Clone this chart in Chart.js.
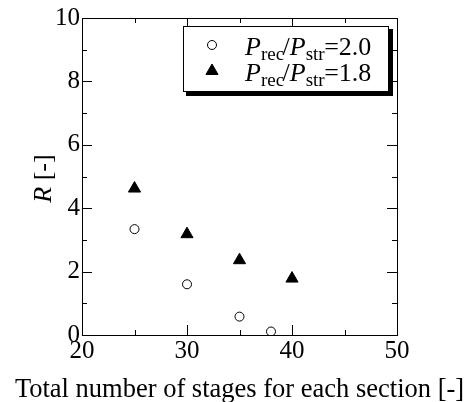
<!DOCTYPE html>
<html>
<head>
<meta charset="utf-8">
<script src="https://cdn.jsdelivr.net/npm/chart.js@4/dist/chart.umd.min.js"></script>
<style>
  html, body { margin: 0; padding: 0; background: #fff; }
  #wrap { width: 469px; height: 402px; }
</style>
</head>
<body>
<div id="wrap"><canvas id="c" width="469" height="402"></canvas></div>
<script>
// ---- data ----
const stagesA = [25, 30, 35, 38];          // Prec/Pstr = 2.0
const valuesA = [3.34, 1.60, 0.58, 0.11];
const stagesB = [25, 30, 35, 40];          // Prec/Pstr = 1.8
const valuesB = [4.62, 3.18, 2.36, 1.78];
const xTicks = [20, 30, 40, 50];
const yTicks = [0, 2, 4, 6, 8, 10];
const legendRatios = ['2.0', '1.8'];
const xTitle = 'Total number of stages for each section [-]';

const SERIF = '"Liberation Serif", "DejaVu Serif", serif';

function drawRich(ctx, parts, x, y) {
  let cx = x;
  ctx.textAlign = 'left';
  for (const p of parts) {
    ctx.font = p.font;
    ctx.fillText(p.text, cx, y + (p.dy || 0));
    cx += ctx.measureText(p.text).width + (p.kern || 0);
  }
  return cx;
}

const framePlugin = {
  id: 'frame',
  afterDatasetsDraw(chart) {
    const ctx = chart.ctx;
    const a = chart.chartArea;
    const xs = chart.scales.x, ys = chart.scales.y;
    ctx.save();
    ctx.strokeStyle = '#000';
    ctx.lineWidth = 1;
    ctx.strokeRect(Math.round(a.left) + 0.5, Math.round(a.top) + 0.5,
                   Math.round(a.right - a.left), Math.round(a.bottom - a.top));
    ctx.beginPath();
    for (let v = xs.min; v <= xs.max + 1e-9; v += 5) {
      const px = Math.round(xs.getPixelForValue(v)) + 0.5;
      const len = (v % 10 === 0) ? 10 : 5;
      ctx.moveTo(px, a.bottom); ctx.lineTo(px, a.bottom - len);
      ctx.moveTo(px, a.top); ctx.lineTo(px, a.top + len);
    }
    for (let v = ys.min; v <= ys.max + 1e-9; v += 1) {
      const py = Math.round(ys.getPixelForValue(v)) + 0.5;
      const len = (v % 2 === 0) ? 10 : 5;
      ctx.moveTo(a.left, py); ctx.lineTo(a.left + len, py);
      ctx.moveTo(a.right, py); ctx.lineTo(a.right - len, py);
    }
    ctx.stroke();
    ctx.restore();
  },
  afterDraw(chart) {
    const ctx = chart.ctx;
    const a = chart.chartArea;
    ctx.save();
    ctx.fillStyle = '#000';
    ctx.textBaseline = 'alphabetic';
    // x title
    ctx.font = '26.5px ' + SERIF;
    ctx.textAlign = 'center';
    ctx.fillText(xTitle, (a.left + a.right) / 2, 397);
    // y title (rotated)
    ctx.save();
    ctx.translate(51, (a.top + a.bottom) / 2 + 2);
    ctx.rotate(-Math.PI / 2);
    const f1 = 'italic 26px ' + SERIF, f2 = '26px ' + SERIF;
    ctx.font = f1; const w1 = ctx.measureText('R').width;
    ctx.font = f2; const w2 = ctx.measureText(' [-]').width;
    drawRich(ctx, [{text: 'R', font: f1}, {text: ' [-]', font: f2}], -(w1 + w2) / 2, 0);
    ctx.restore();

    // legend box
    const bx = a.left + 101, by = a.top + 8, bw = 205, bh = 65;
    ctx.fillStyle = '#000';
    ctx.fillRect(bx + 3, by + 3, bw + 2, bh + 2);
    ctx.fillStyle = '#fff';
    ctx.fillRect(bx, by, bw, bh);
    ctx.strokeStyle = '#000';
    ctx.lineWidth = 1;
    ctx.strokeRect(bx + 0.5, by + 0.5, bw, bh);

    const ds = chart.data.datasets;
    const rows = [by + 19, by + 45];
    for (let i = 0; i < 2; i++) {
      const d = ds[i];
      ctx.fillStyle = d.backgroundColor; ctx.strokeStyle = d.borderColor;
      ctx.lineWidth = d.borderWidth;
      Chart.helpers.drawPoint(ctx, {
        pointStyle: d.pointStyle, radius: d.pointRadius, rotation: 0,
        borderWidth: d.borderWidth
      }, bx + 29, rows[i]);
      ctx.fillStyle = '#000';
      const big = '26px ' + SERIF, bigI = 'italic 26px ' + SERIF, sub = '19px ' + SERIF;
      drawRich(ctx, [
        {text: 'P', font: bigI, kern: 0},
        {text: 'rec', font: sub, dy: 5, kern: -1.5},
        {text: '/', font: big},
        {text: 'P', font: bigI},
        {text: 'str', font: sub, dy: 5, kern: -0.5},
        {text: '=' + legendRatios[i], font: big}
      ], bx + 62, rows[i] + 10);
    }
    ctx.restore();
  }
};

new Chart(document.getElementById('c'), {
  type: 'scatter',
  data: {
    datasets: [
      {
        label: 'Prec/Pstr=' + legendRatios[0],
        data: stagesA.map((x, i) => ({x, y: valuesA[i]})),
        pointStyle: 'circle', pointRadius: 4.5, pointHoverRadius: 4.5,
        backgroundColor: '#fff', borderColor: '#000', borderWidth: 1
      },
      {
        label: 'Prec/Pstr=' + legendRatios[1],
        data: stagesB.map((x, i) => ({x, y: valuesB[i]})),
        pointStyle: 'triangle', pointRadius: 7, pointHoverRadius: 7,
        backgroundColor: '#000', borderColor: '#000', borderWidth: 1
      }
    ]
  },
  options: {
    responsive: false,
    animation: false,
    events: [],
    layout: { padding: { top: 18, right: 72, left: 0, bottom: 0 } },
    plugins: { legend: { display: false }, tooltip: { enabled: false }, title: { display: false } },
    scales: {
      x: {
        type: 'linear', min: 20, max: 50,
        afterFit(s) { s.height = 67; },
        afterBuildTicks(s) { s.ticks = xTicks.map(v => ({value: v})); },
        grid: { display: false, drawTicks: false },
        border: { display: false },
        ticks: { color: '#000', font: { family: SERIF, size: 25 }, padding: 1, maxRotation: 0, autoSkip: false }
      },
      y: {
        type: 'linear', min: 0, max: 10,
        afterFit(s) { s.width = 82; },
        afterBuildTicks(s) { s.ticks = yTicks.map(v => ({value: v})); },
        grid: { display: false, drawTicks: false },
        border: { display: false },
        ticks: { color: '#000', font: { family: SERIF, size: 25 }, padding: 2, autoSkip: false }
      }
    }
  },
  plugins: [framePlugin]
});
</script>
</body>
</html>
